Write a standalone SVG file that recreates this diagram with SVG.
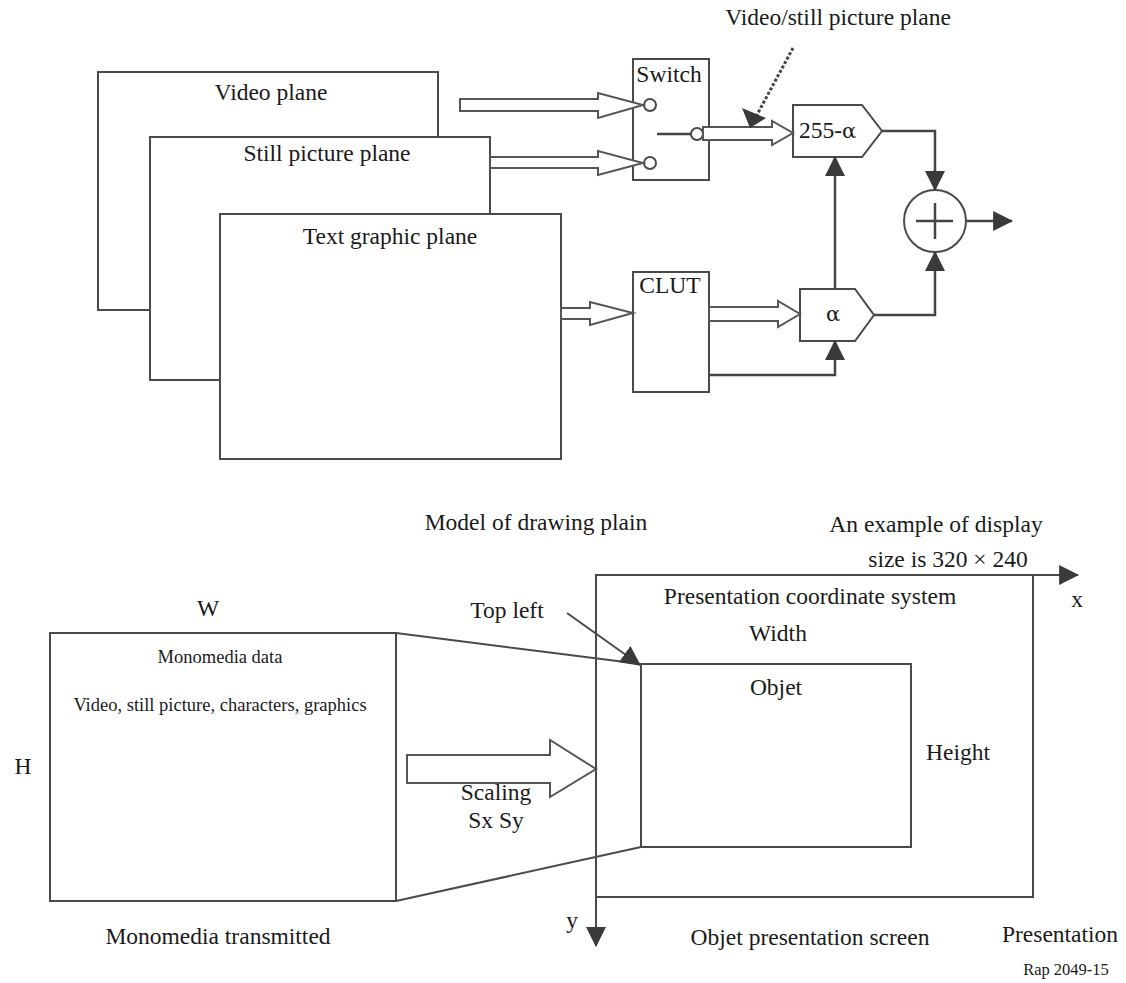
<svg xmlns="http://www.w3.org/2000/svg" width="1126" height="983" viewBox="0 0 1126 983">
<style>
text{font-family:"Liberation Serif","Times New Roman",serif;font-size:23.5px;fill:#1a1a1a}
.sm{font-size:18.5px}
.xs{font-size:16.5px}
.gr{font-family:"DejaVu Serif","Liberation Serif",serif;font-size:21px}
.box{fill:#fff;stroke:#4a4a4a;stroke-width:2}
.ln{fill:none;stroke:#444;stroke-width:2.5}
.thin{fill:none;stroke:#4a4a4a;stroke-width:2}
.hol{fill:#fff;stroke:#555;stroke-width:2}
.dot{fill:none;stroke:#444;stroke-width:3;stroke-dasharray:3 2}
</style>
<defs>
<marker id="ah" markerUnits="userSpaceOnUse" markerWidth="20" markerHeight="20" viewBox="0 0 18 18" refX="17" refY="9" orient="auto">
<path d="M0,0 L18,9 L0,18 Z" fill="#3a3a3a"/>
</marker>
</defs>
<rect width="1126" height="983" fill="#fff"/>

<g id="video-plane"><rect class="box" x="98" y="72" width="340" height="238"/><text x="271" y="100" text-anchor="middle">Video plane</text></g>
<g id="still-plane"><rect class="box" x="150" y="137" width="340" height="243"/><text x="327" y="161" text-anchor="middle">Still picture plane</text></g>
<g id="text-plane"><rect class="box" x="220" y="214" width="341" height="245"/><text x="390" y="244" text-anchor="middle">Text graphic plane</text></g>

<g id="switch"><rect class="box" x="633" y="59" width="76" height="121"/><text x="669" y="82" text-anchor="middle">Switch</text>
<circle class="box" cx="650" cy="105" r="6"/><circle class="box" cx="650" cy="163" r="6"/>
<line class="ln" x1="657" y1="134" x2="691" y2="134"/><circle class="box" cx="697" cy="134" r="6"/></g>

<g id="clut"><rect class="box" x="633" y="272" width="76" height="120"/><text x="670" y="293" text-anchor="middle">CLUT</text></g>
<g id="mul-255"><polygon class="box" points="793,105 862,105 882,131 862,157 793,157"/><text x="799" y="138">255-<tspan class="gr">α</tspan></text></g>
<g id="mul-a"><polygon class="box" points="800,289 855,289 874,315 855,341 800,341"/><text class="gr" x="833" y="321" text-anchor="middle">α</text></g>
<g id="sum"><circle class="box" cx="935" cy="221" r="31" stroke-width="2.5"/><line class="ln" x1="916" y1="221" x2="953" y2="221"/><line class="ln" x1="935" y1="203" x2="935" y2="239"/></g>
<g id="label-vs"><text x="838" y="25" text-anchor="middle">Video/still picture plane</text></g>

<g id="monomedia"><rect class="box" x="50" y="633" width="346" height="268"/>
<text class="sm" x="220" y="663" text-anchor="middle">Monomedia data</text>
<text class="sm" x="220" y="711" text-anchor="middle">Video, still picture, characters, graphics</text></g>
<g id="presentation"><rect class="box" x="596" y="575" width="437" height="322"/></g>
<g id="objet"><rect class="box" x="641" y="664" width="270" height="183"/><text x="776" y="695" text-anchor="middle">Objet</text></g>

<g id="connectors">
<polygon class="hol" points="460,99 598,99 598,93 643,105 598,118 598,111 460,111"/>
<polygon class="hol" points="490,157 598,157 598,151 643,163 598,175 598,168 490,168"/>
<polygon class="hol" points="703,127 772,127 772,121 793,133 772,145 772,140 703,140"/>
<polygon class="hol" points="561,308 590,308 590,302 633,313 590,325 590,319 561,319"/>
<polygon class="hol" points="709,307 778,307 778,301 800,314 778,327 778,321 709,321"/>
<polyline class="ln" points="882,131 935,131 935,190" marker-end="url(#ah)"/>
<polyline class="ln" points="874,315 935,315 935,252" marker-end="url(#ah)"/>
<line class="ln" x1="835" y1="289" x2="835" y2="157" marker-end="url(#ah)"/>
<polyline class="ln" points="709,375 835,375 835,341" marker-end="url(#ah)"/>
<line class="ln" x1="967" y1="221" x2="1012" y2="221" marker-end="url(#ah)"/>
<line class="dot" x1="793" y1="48" x2="752" y2="124"/>
<path d="M742,108 L766,118 L750,128 Z" fill="#3a3a3a"/>

<line class="thin" x1="396" y1="633" x2="641" y2="664"/>
<line class="thin" x1="396" y1="901" x2="641" y2="847"/>
<line class="thin" x1="567" y1="613" x2="640" y2="665" marker-end="url(#ah)"/>
<polygon class="hol" points="407,755 550,755 550,740 596,769 550,797 550,783 407,783"/>
<line class="thin" x1="596" y1="575" x2="1078" y2="575" marker-end="url(#ah)"/>
<line class="thin" x1="596" y1="575" x2="596" y2="946" marker-end="url(#ah)"/>
</g>

<g id="labels">
<text x="536" y="530" text-anchor="middle">Model of drawing plain</text>
<text x="936" y="532" text-anchor="middle">An example of display</text>
<text x="948" y="567" text-anchor="middle">size is 320 × 240</text>
<text x="810" y="604" text-anchor="middle">Presentation coordinate system</text>
<text x="1077" y="607" text-anchor="middle">x</text>
<text x="778" y="641" text-anchor="middle">Width</text>
<text x="507" y="618" text-anchor="middle">Top left</text>
<text x="208" y="616" text-anchor="middle">W</text>
<text x="23" y="774" text-anchor="middle">H</text>
<text x="958" y="760" text-anchor="middle">Height</text>
<text x="496" y="800" text-anchor="middle">Scaling</text>
<text x="496" y="828" text-anchor="middle">Sx Sy</text>
<text x="572" y="928" text-anchor="middle">y</text>
<text x="218" y="944" text-anchor="middle">Monomedia transmitted</text>
<text x="810" y="945" text-anchor="middle">Objet presentation screen</text>
<text x="1060" y="942" text-anchor="middle">Presentation</text>
<text class="xs" x="1066" y="975" text-anchor="middle">Rap 2049-15</text>
</g>
</svg>
